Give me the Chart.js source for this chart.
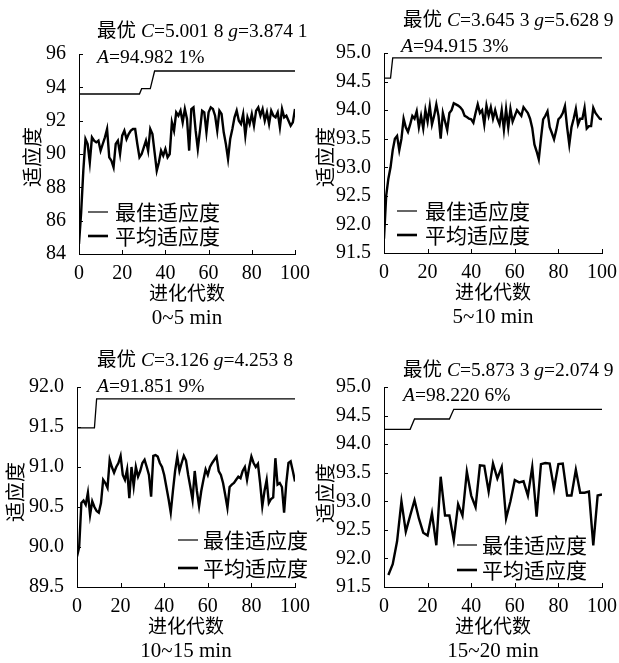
<!DOCTYPE html>
<html>
<head>
<meta charset="utf-8">
<script src="https://cdn.jsdelivr.net/npm/chart.js@4.4.1/dist/chart.umd.min.js"></script>
<style>
  body { margin: 0; background: #fff; }
  #page { position: relative; width: 619px; height: 663px; overflow: hidden; }
  canvas { position: absolute; }
</style>
</head>
<body>
<div id="page">
  <canvas id="c1"></canvas>
  <canvas id="c2"></canvas>
  <canvas id="c3"></canvas>
  <canvas id="c4"></canvas>
</div>
<script>
// 进化代数
const generations = [0,1,2,3,4,5,6,7,8,9,10,11,12,13,14,15,16,17,18,19,20,21,22,23,24,25,26,27,28,29,30,
  31,32,33,34,35,36,37,38,39,40,41,42,43,44,45,46,47,48,49,50,51,52,53,54,55,56,57,58,59,60,
  61,62,63,64,65,66,67,68,69,70,71,72,73,74,75,76,77,78,79,80,81,82,83,84,85,86,87,88,89,90,
  91,92,93,94,95,96,97,98,99,100];
const generations4 = [2,4,6,8,10,12,14,16,18,20,22,24,26,28,30,32,34,36,38,40,42,44,46,48,50,
  52,54,56,58,60,62,64,66,68,70,72,74,76,78,80,82,84,86,88,90,92,94,96,98,100];

// 0~5 min
const bestGen1 = [0, 28, 29, 33, 35, 100];
const best1 = [93.6, 93.6, 93.92, 93.92, 94.98, 94.98];
const avg1 = [84.6,86.5,89.0,90.9,90.6,89.5,91.0,90.8,90.7,90.8,90.2,90.6,91.0,91.5,89.8,89.6,89.2,90.6,90.8,90.0,
  91.1,91.4,90.9,91.2,91.4,91.5,91.5,90.6,89.8,90.0,90.4,90.8,90.2,91.5,91.2,90.1,89.0,89.5,90.2,89.9,
  90.3,89.8,90.0,91.9,91.4,92.5,92.3,92.6,91.9,92.7,92.1,90.2,92.7,92.8,91.4,90.3,91.4,92.6,92.5,91.3,
  92.5,92.8,92.7,92.3,91.4,92.6,92.4,91.3,90.6,89.7,90.9,91.5,92.2,92.6,92.0,91.8,92.4,91.1,92.2,91.8,
  92.4,91.7,92.6,92.8,92.3,92.7,92.0,92.5,91.8,92.6,92.3,92.2,92.5,91.6,92.7,92.2,92.3,92.0,91.7,91.9,92.7];

// 5~10 min
const bestGen2 = [0, 3, 4, 100];
const best2 = [94.56, 94.56, 94.915, 94.915];
const avg2 = [91.75,92.5,92.8,93.0,93.3,93.5,93.55,93.3,93.5,93.85,93.7,93.62,93.75,93.9,93.85,93.98,93.7,93.9,93.68,94.0,
  93.8,94.07,93.75,93.9,94.1,93.9,93.5,93.95,93.8,93.65,93.95,94.0,94.12,94.1,94.08,94.05,94.0,93.9,93.88,93.85,
  93.84,93.78,93.95,94.1,93.95,94.0,93.75,94.08,93.9,94.05,93.85,94.0,93.85,93.75,94.0,93.66,94.02,93.7,94.02,93.8,
  93.9,94.0,93.95,93.9,94.05,94.0,93.95,93.85,93.69,93.4,93.28,93.14,93.5,93.84,93.9,93.98,93.7,93.6,93.49,93.65,
  93.84,93.88,93.95,94.07,93.7,93.4,93.7,93.85,94.02,93.75,93.85,93.85,94.04,93.68,93.72,93.72,94.04,93.95,93.9,93.85,93.84];

// 10~15 min
const bestGen3 = [0, 8, 9, 100];
const best3 = [91.49, 91.49, 91.852, 91.852];
const avg3 = [89.88,90.0,90.55,90.58,90.53,90.68,90.4,90.57,90.5,90.45,90.43,90.55,90.84,90.8,90.74,91.09,91.0,90.93,91.0,91.05,
  91.14,90.9,90.84,90.97,90.61,91.0,90.76,91.0,90.88,90.95,91.05,91.09,91.0,90.9,90.63,91.14,91.15,91.13,91.05,91.0,
  90.9,90.75,90.6,90.43,90.7,90.95,91.13,90.95,91.05,91.14,91.08,90.9,90.75,90.59,90.95,90.7,90.51,90.7,90.84,90.97,
  90.9,91.0,91.05,91.09,91.13,90.95,90.9,90.8,90.65,90.49,90.75,90.78,90.8,90.84,90.88,90.86,90.95,91.0,90.84,91.0,
  91.13,91.05,91.0,91.04,90.8,90.51,90.7,90.84,90.55,90.6,90.62,91.11,90.78,90.8,90.75,90.43,90.8,91.05,91.07,90.95,90.82];

// 15~20 min
const bestGen4 = [0, 12, 14, 30, 32, 100];
const best4 = [94.26, 94.26, 94.44, 94.44, 94.61, 94.61];
const avg4 = [91.71,91.9,92.3,93.0,92.47,92.75,93.02,92.7,92.45,92.4,92.79,92.23,93.43,92.75,92.75,92.32,92.95,92.75,93.52,93.1,
  92.9,93.63,93.62,93.17,93.66,93.4,93.6,92.7,93.0,93.37,93.33,93.35,93.1,93.6,92.73,93.65,93.67,93.66,93.22,93.65,
  93.66,93.1,93.1,93.55,93.15,93.15,93.17,92.23,93.1,93.12];

const FONT = "'Liberation Serif', 'Noto Sans CJK SC', serif";
const CJK = "'Noto Sans CJK SC', sans-serif";

function pts(xs, ys) {
  return xs.map((x, i) => ({ x: x, y: ys[i] }));
}

// 画布位置和文字位置（页面坐标）
const panels = [
  { id: 'c1', x: 0, y: 0, w: 310, h: 333, area: [79, 54, 296, 254], yMin: 84, yMax: 96, yStep: 2, dec: 0,
    best: pts(bestGen1, best1), avg: pts(generations, avg1),
    C: '5.001 8', g: '3.874 1', A: '94.982 1%', head: [97, 32], aLine: [97, 58],
    legend: { lx: 88, tx: 115, y1: 212, y2: 236 }, ylab: [32, 157], sub: '0~5 min' },
  { id: 'c2', x: 310, y: 0, w: 309, h: 333, area: [384, 53, 602, 253], yMin: 91.5, yMax: 95, yStep: 0.5, dec: 1,
    best: pts(bestGen2, best2), avg: pts(generations, avg2),
    C: '3.645 3', g: '5.628 9', A: '94.915 3%', head: [403, 21], aLine: [401, 47],
    legend: { lx: 397, tx: 425, y1: 211, y2: 235 }, ylab: [325, 157], sub: '5~10 min' },
  { id: 'c3', x: 0, y: 333, w: 310, h: 330, area: [77, 387, 295, 587], yMin: 89.5, yMax: 92, yStep: 0.5, dec: 1,
    best: pts(bestGen3, best3), avg: pts(generations, avg3),
    C: '3.126', g: '4.253 8', A: '91.851 9%', head: [97, 361], aLine: [97, 387],
    legend: { lx: 178, tx: 203, y1: 540, y2: 568 }, ylab: [15, 492], sub: '10~15 min' },
  { id: 'c4', x: 310, y: 333, w: 309, h: 330, area: [384, 387, 602, 587], yMin: 91.5, yMax: 95, yStep: 0.5, dec: 1,
    best: pts(bestGen4, best4), avg: pts(generations4, avg4),
    C: '5.873 3', g: '2.074 9', A: '98.220 6%', head: [403, 371], aLine: [403, 396],
    legend: { lx: 457, tx: 482, y1: 545, y2: 570 }, ylab: [325, 493], sub: '15~20 min' }
];

function drawParts(ctx, parts, x, y) {
  parts.forEach(p => {
    ctx.font = (p[1] ? 'italic ' : '') + '19.5px ' + FONT;
    ctx.fillText(p[0], x, y);
    x += ctx.measureText(p[0]).width;
  });
}

function textPlugin(p) {
  return {
    id: 'texts',
    afterDraw(chart) {
      const ctx = chart.ctx;
      const ox = p.x, oy = p.y;
      const area = chart.chartArea;
      ctx.save();
      ctx.fillStyle = '#000';
      ctx.strokeStyle = '#000';

      // 向内的刻度线
      ctx.lineWidth = 1;
      const xs = chart.scales.x, ys = chart.scales.y;
      xs.ticks.forEach(t => {
        const px = Math.round(xs.getPixelForValue(t.value)) + 0.5;
        ctx.beginPath();
        ctx.moveTo(px, area.bottom);
        ctx.lineTo(px, area.bottom - 4);
        ctx.stroke();
      });
      ys.ticks.forEach(t => {
        const py = Math.round(ys.getPixelForValue(t.value)) + 0.5;
        ctx.beginPath();
        ctx.moveTo(area.left, py);
        ctx.lineTo(area.left + 4, py);
        ctx.stroke();
      });

      // 标题
      ctx.textBaseline = 'middle';
      ctx.textAlign = 'left';
      drawParts(ctx, [['最优 ', false], ['C', true], ['=' + p.C + ' ', false], ['g', true], ['=' + p.g, false]],
        p.head[0] - ox, p.head[1] - oy);
      drawParts(ctx, [['A', true], ['=' + p.A, false]], p.aLine[0] - ox, p.aLine[1] - oy);

      // 图例
      ctx.font = '21px ' + CJK;
      const lg = p.legend;
      ctx.lineWidth = 1.2;
      ctx.beginPath();
      ctx.moveTo(lg.lx - ox, lg.y1 - oy);
      ctx.lineTo(lg.lx + 20 - ox, lg.y1 - oy);
      ctx.stroke();
      ctx.fillText('最佳适应度', lg.tx - ox, lg.y1 - oy);
      ctx.lineWidth = 2.6;
      ctx.beginPath();
      ctx.moveTo(lg.lx - ox, lg.y2 - oy);
      ctx.lineTo(lg.lx + 20 - ox, lg.y2 - oy);
      ctx.stroke();
      ctx.fillText('平均适应度', lg.tx - ox, lg.y2 - oy);

      // 坐标轴名称
      ctx.textAlign = 'center';
      const cx = (area.left + area.right) / 2;
      ctx.font = '19px ' + CJK;
      ctx.fillText('进化代数', cx, area.bottom + 39);
      ctx.font = '21px ' + FONT;
      ctx.fillText(p.sub, cx, area.bottom + 64);

      ctx.save();
      ctx.translate(p.ylab[0] - ox, p.ylab[1] - oy);
      ctx.rotate(-Math.PI / 2);
      ctx.font = '20px ' + CJK;
      ctx.fillText('适应度', 0, 0);
      ctx.restore();

      ctx.restore();
    }
  };
}

panels.forEach(p => {
  const canvas = document.getElementById(p.id);
  canvas.width = p.w;
  canvas.height = p.h;
  canvas.style.left = p.x + 'px';
  canvas.style.top = p.y + 'px';

  const l = p.area[0] - p.x, t = p.area[1] - p.y, r = p.area[2] - p.x, b = p.area[3] - p.y;

  new Chart(canvas.getContext('2d'), {
    type: 'line',
    data: {
      datasets: [
        { label: '最佳适应度', data: p.best, borderColor: '#000', borderWidth: 1.3, pointRadius: 0, tension: 0 },
        { label: '平均适应度', data: p.avg, borderColor: '#000', borderWidth: 2.4, pointRadius: 0, tension: 0 }
      ]
    },
    options: {
      responsive: false,
      animation: false,
      devicePixelRatio: 1,
      layout: { autoPadding: false, padding: { left: 0, top: t, right: p.w - r, bottom: 0 } },
      plugins: { legend: { display: false }, tooltip: { enabled: false } },
      scales: {
        x: {
          type: 'linear', min: 0, max: 100,
          afterFit: s => { s.height = p.h - b; },
          grid: { display: false },
          border: { display: true, color: '#000', width: 1 },
          ticks: { stepSize: 20, padding: 0, color: '#000', maxRotation: 0, font: { family: FONT, size: 20 } }
        },
        y: {
          type: 'linear', min: p.yMin, max: p.yMax,
          afterFit: s => { s.width = l; },
          grid: { display: false },
          border: { display: true, color: '#000', width: 1 },
          ticks: { stepSize: p.yStep, padding: 5, color: '#000', font: { family: FONT, size: 20 },
            callback: v => v.toFixed(p.dec) }
        }
      }
    },
    plugins: [textPlugin(p)]
  });
});
</script>
</body>
</html>
